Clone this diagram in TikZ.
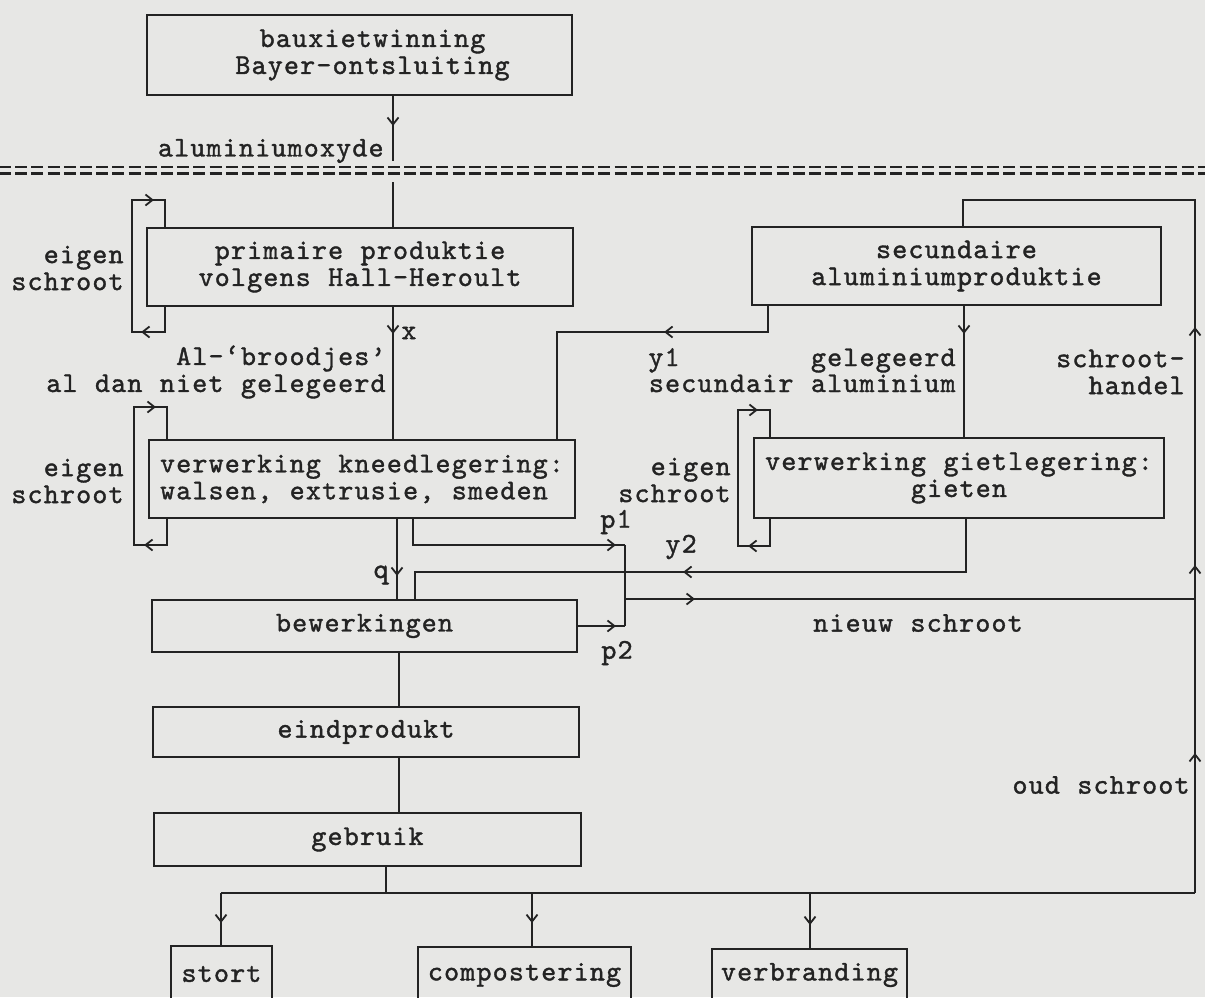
\documentclass[tikz,border=0pt]{standalone}
\usepackage{fontspec}
\usetikzlibrary{arrows.meta,decorations.markings}
\newfontfamily\mymono[FakeBold=1.3,LetterSpace=4.14,WordSpace=1.079]{lmmono10-regular.otf}
\newcommand\mytt{\mymono\fontsize{14.3pt}{13.5pt}\selectfont}
\definecolor{bgc}{RGB}{231,231,229}
\definecolor{ink}{RGB}{35,35,35}
\tikzset{
 line/.style={draw=ink, line width=0.9pt},
 box/.style={draw=ink, line width=0.9pt, rectangle, inner sep=2pt, font=\mytt, text=ink, align=center},
 lab/.style={font=\mytt, text=ink, inner sep=0pt},
 sepline/.style={draw=ink, line width=1.3pt, dash pattern=on 6pt off 2.1pt},
 arrowat/.style={postaction={decorate, decoration={markings, mark=at position #1 with {\arrow[ink, line width=0.9pt]{Straight Barb[length=3.5pt,width=5.5pt]}}}}},
}
\begin{document}
\begin{tikzpicture}[x=0.5pt,y=-0.5pt]
\useasboundingbox (0,0) rectangle (1205,997);
\clip (0,0) rectangle (1205,997);
\fill[bgc] (0,0) rectangle (1205,997);

% boxes
\node[box, minimum width=212.5pt, minimum height=40pt] (b1) at (359.5,55) {\hspace*{13pt}bauxietwinning\\\hspace*{13pt}Bayer-ontsluiting};
\node[box, minimum width=213pt, minimum height=39pt] (prim) at (360,267) {primaire produktie\\volgens Hall-Heroult};
\node[box, minimum width=204.5pt, minimum height=39pt] (sec) at (956.5,266) {secundaire\\aluminiumproduktie};
\node[box, minimum width=213pt, minimum height=39pt, align=left] (kneed) at (362,479) {verwerking kneedlegering:\\walsen, extrusie, smeden};
\node[box, minimum width=205pt, minimum height=40pt] (giet) at (959,478) {verwerking gietlegering:\\gieten};
\node[box, minimum width=212.5pt, minimum height=26pt] (bew) at (364.5,626) {bewerkingen};
\node[box, minimum width=213pt, minimum height=25pt] (eind) at (366,732) {eindprodukt};
\node[box, minimum width=213.5pt, minimum height=26.5pt] (gebr) at (367.5,839.5) {gebruik};
\node[box, minimum width=50.5pt, minimum height=28pt] (stort) at (221.5,974) {stort};
\node[box, minimum width=106.5pt, minimum height=28pt] (comp) at (524.5,975) {compostering};
\node[box, minimum width=97.5pt, minimum height=26pt] (verb) at (809.5,975) {verbranding};

% separator (typed double rule)
\draw[sepline] (-1,167) -- (1210,167);
\draw[sepline] (-1,173.5) -- (1210,173.5);

% labels
\node[lab, anchor=east] (alox) at (384,151) {aluminiumoxyde};
\node[lab, anchor=east, align=right] (es1) at (124,268) {eigen\\schroot};
\node[lab, anchor=east, align=right] (albr) at (386,372) {Al-‘broodjes’\\al dan niet gelegeerd};
\node[lab, anchor=base west] (y1l) at (648,366) {y1};
\node[lab, anchor=base east] (gel) at (956,366) {gelegeerd};
\node[lab, anchor=base east] (sal) at (956,392) {secundair aluminium};
\node[lab, anchor=east, align=right] (sh) at (1185,372) {schroot-\\handel};
\node[lab, anchor=east, align=right] (es2) at (124,481) {eigen\\schroot};
\node[lab, anchor=east, align=right] (es3) at (731,480) {eigen\\schroot};
\node[lab] (p1l) at (616,522) {p1};
\node[lab] (y2l) at (681,547) {y2};
\node[lab] (p2l) at (617,653) {p2};
\node[lab] (nsl) at (918,623) {nieuw schroot};
\node[lab, anchor=east] (osl) at (1190,785) {oud schroot};

% coordinates
\coordinate (c1) at (393,161);
\coordinate (c2) at (393,182);
\coordinate (pl1) at (165,332); \coordinate (pl2) at (132,332);
\coordinate (pl3) at (132,200); \coordinate (pl4) at (165,200);
\coordinate (xa) at (393,333);
\coordinate (y1a) at (768,332); \coordinate (y1b) at (557,332);
\coordinate (r0) at (1195,893); \coordinate (r1) at (1195,200); \coordinate (r2) at (963,200);
\coordinate (ga) at (964,333);
\coordinate (kl1) at (167,545); \coordinate (kl2) at (134,545);
\coordinate (kl3) at (134,407); \coordinate (kl4) at (167,407);
\coordinate (gl1) at (770,546); \coordinate (gl2) at (738,546);
\coordinate (gl3) at (738,410); \coordinate (gl4) at (770,410);
\coordinate (qa) at (397,575);
\coordinate (p1a) at (413,545); \coordinate (pj1) at (625,545);
\coordinate (pj2) at (625,626);
\coordinate (ns) at (625,599);
\coordinate (y2a) at (966,572); \coordinate (y2b) at (415,572);
\coordinate (vx) at (399,680);
\coordinate (bj) at (386,893);
\coordinate (bl) at (221,893);
\coordinate (bc) at (532,893);
\coordinate (bv) at (810,893);

% connectors
\draw[line, arrowat=15pt] (b1.south -| c1) -- (c1);
\draw[line] (c2) -- (prim.north -| c2);
\draw[line, arrowat=24.5pt, arrowat=106pt] (prim.south -| pl1) -- (pl1) -- (pl2) -- (pl3) -- (pl4) -- (prim.north -| pl4);
\draw[line, arrowat=13.5pt] (prim.south -| xa) -- (kneed.north -| xa);
\node[lab, anchor=west] (xl) at (401,333) {x};
\draw[line, arrowat=65pt] (sec.south -| y1a) -- (y1a) -- (y1b) -- (kneed.north -| y1b);
\draw[line, arrowat=70pt, arrowat=164pt, arrowat=283pt] (r0) -- (r1) -- (r2) -- (sec.north -| r2);
\draw[line, arrowat=14pt] (sec.south -| ga) -- (giet.north -| ga);
\draw[line, arrowat=24.5pt, arrowat=109.5pt] (kneed.south -| kl1) -- (kl1) -- (kl2) -- (kl3) -- (kl4) -- (kneed.north -| kl4);
\draw[line, arrowat=24.5pt, arrowat=107.5pt] (giet.south -| gl1) -- (gl1) -- (gl2) -- (gl3) -- (gl4) -- (giet.north -| gl4);
\draw[line, arrowat=28.5pt] (kneed.south -| qa) -- (bew.north -| qa);
\node[lab, anchor=east] (ql) at (389,575) {q};
\draw[line, arrowat=114.5pt] (kneed.south -| p1a) -- (p1a) -- (pj1);
\draw[line, arrowat=19pt] (bew.east) -- (pj2);
\draw[line] (pj1) -- (pj2);
\draw[line, arrowat=35pt] (ns) -- (ns -| r0);
\draw[line, arrowat=168pt] (giet.south -| y2a) -- (y2a) -- (y2b) -- (bew.north -| y2b);
\draw[line] (bew.south -| vx) -- (eind.north -| vx);
\draw[line] (eind.south -| vx) -- (gebr.north -| vx);
\draw[line] (gebr.south -| bj) -- (bj);
\draw[line] (bl) -- (r0);
\draw[line, arrowat=15pt] (bl) -- (stort.north -| bl);
\draw[line, arrowat=15pt] (bc) -- (comp.north -| bc);
\draw[line, arrowat=16pt] (bv) -- (verb.north -| bv);
\end{tikzpicture}
\end{document}
